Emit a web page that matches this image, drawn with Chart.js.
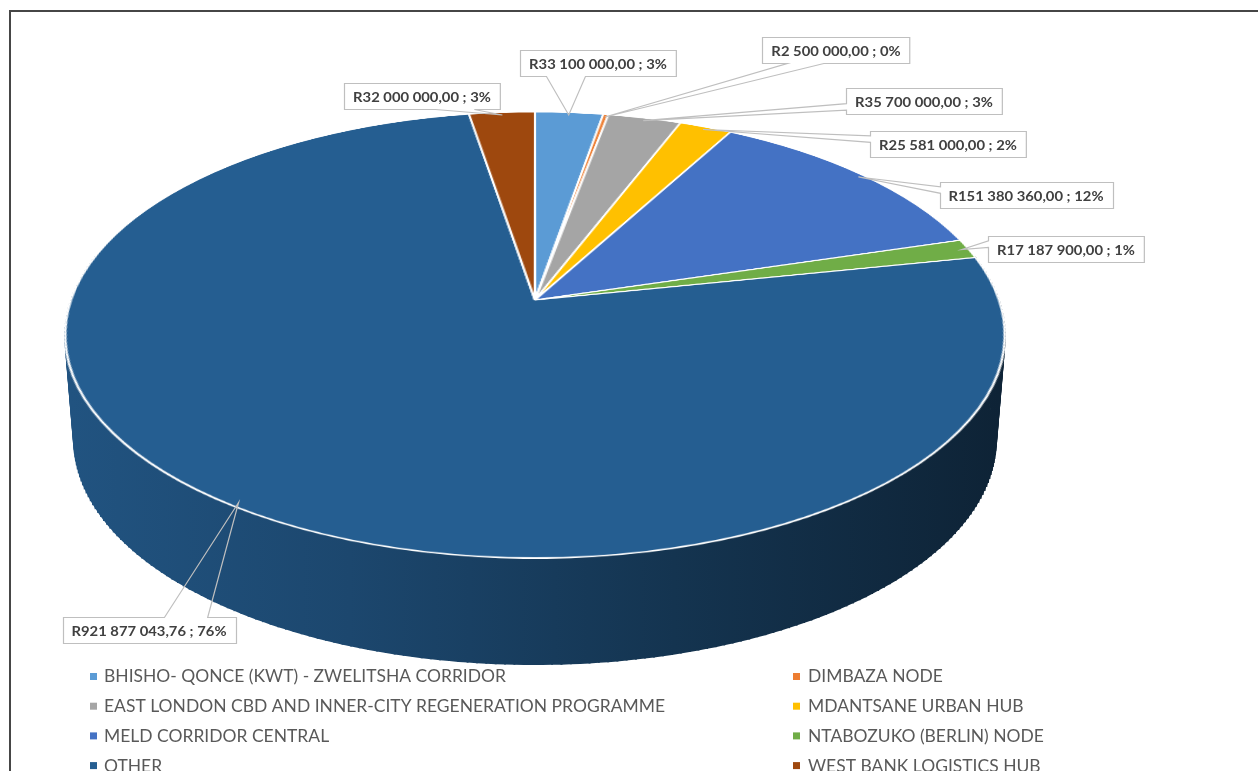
<!DOCTYPE html>
<html>
<head>
<meta charset="utf-8">
<title>Capital budget by spatial area</title>
<script src="https://cdn.jsdelivr.net/npm/chart.js@4.4.1/dist/chart.umd.min.js"></script>
<style>
  html, body { margin: 0; padding: 0; background: #ffffff; }
  #wrap { position: relative; width: 1258px; height: 771px; overflow: hidden; }
  canvas { display: block; }
</style>
</head>
<body>
<div id="wrap"><canvas id="pie" width="1258" height="771"></canvas></div>
<script>
// ---- data ----
const categories = [
  'BHISHO- QONCE (KWT) - ZWELITSHA CORRIDOR',
  'DIMBAZA NODE',
  'EAST LONDON CBD AND INNER-CITY REGENERATION PROGRAMME',
  'MDANTSANE URBAN HUB',
  'MELD CORRIDOR CENTRAL',
  'NTABOZUKO (BERLIN) NODE',
  'OTHER',
  'WEST BANK LOGISTICS HUB'
];
const budgetRand = [33100000.00, 2500000.00, 35700000.00, 25581000.00, 151380360.00, 17187900.00, 921877043.76, 32000000.00];
const sliceColors = ['#5B9BD5', '#ED7D31', '#A5A5A5', '#FFC000', '#4472C4', '#70AD47', '#255E91', '#9E480E'];

// ---- layout ----
// centre of each value callout box, in slice order
const calloutCentres = [[598, 63], [836, 50], [924, 101], [948, 144], [1026, 195], [1066, 249], [149, 630], [422, 96]];
// tilted-disc view: centre, horizontal scale, vertical scale, perspective factor, base offset
const VIEW = { cx: 535, cy: 300, sx: 464, a: 217.5, k: 0.157, baseCy: 407, baseSx: 455 };

function project(theta, r, top) {
  const u = r * Math.cos(theta), v = -r * Math.sin(theta);
  const w = 1 + VIEW.k * v;
  const S = top ? VIEW.sx : VIEW.baseSx;
  const Y0 = top ? VIEW.cy : VIEW.baseCy;
  return [VIEW.cx + S * u / w, Y0 - VIEW.a * v / w];
}
function vAtRow(y) {
  const d = VIEW.cy - y;
  return d / (VIEW.a - VIEW.k * d);
}
function hexRgb(h) {
  const n = parseInt(h.slice(1), 16);
  return [(n >> 16) & 255, (n >> 8) & 255, n & 255];
}
function shade(h, f) {
  const c = hexRgb(h).map(x => Math.round(x * f));
  return 'rgb(' + c.join(',') + ')';
}
function rand(v) {
  const parts = v.toFixed(2).split('.');
  return 'R' + parts[0].replace(/\B(?=(\d{3})+(?!\d))/g, ' ') + ',' + parts[1];
}

function calloutPath(ctx, l, t, w, h, tx, ty) {
  const hc = l + w / 2, vc = t + h / 2;
  const dx = tx - hc, dy = ty - vc;
  const dq = dx * h / w;
  const dz = Math.abs(dy) - Math.abs(dq);
  const x1 = l + w * (dx > 0 ? 7 : 2) / 12, x2 = l + w * (dx > 0 ? 10 : 5) / 12;
  const y1 = t + h * (dy > 0 ? 7 : 2) / 12, y2 = t + h * (dy > 0 ? 10 : 5) / 12;
  const r = l + w, b = t + h;
  ctx.beginPath();
  ctx.moveTo(l, t);
  if (dz > 0 && dy < 0) { ctx.lineTo(x1, t); ctx.lineTo(tx, ty); ctx.lineTo(x2, t); }
  ctx.lineTo(r, t);
  if (dz <= 0 && dx > 0) { ctx.lineTo(r, y1); ctx.lineTo(tx, ty); ctx.lineTo(r, y2); }
  ctx.lineTo(r, b);
  if (dz > 0 && dy > 0) { ctx.lineTo(x2, b); ctx.lineTo(tx, ty); ctx.lineTo(x1, b); }
  ctx.lineTo(l, b);
  if (dz <= 0 && dx < 0) { ctx.lineTo(l, y2); ctx.lineTo(tx, ty); ctx.lineTo(l, y1); }
  ctx.closePath();
}

// Re-projects the flat pie drawn by Chart.js onto a tilted disc with a side wall,
// then adds value callouts, the legend and the frame.
const tiltedPie = {
  id: 'tiltedPie',
  afterDatasetsDraw(chart) {
    const ctx = chart.ctx, cv = chart.canvas;
    const W = cv.width, H = cv.height;
    const meta = chart.getDatasetMeta(0);
    const arcs = meta.data;
    const srcX = arcs[0].x, srcY = arcs[0].y, R = arcs[0].outerRadius;
    const data = chart.data.datasets[0].data;
    const colors = chart.data.datasets[0].backgroundColor;
    const total = data.reduce((s, x) => s + x, 0);

    const off = document.createElement('canvas');
    off.width = W; off.height = H;
    off.getContext('2d').drawImage(cv, 0, 0);

    ctx.save();
    ctx.setTransform(1, 0, 0, 1, 0, 0);
    ctx.clearRect(0, 0, W, H);
    ctx.fillStyle = '#ffffff';
    ctx.fillRect(0, 0, W, H);

    // side wall, one section per slice facing the viewer
    const lo = -12 * Math.PI / 180, hi = 192 * Math.PI / 180;
    arcs.forEach((arc, i) => {
      let s = arc.startAngle, e = arc.endAngle;
      // bring the angles near the front range
      const pieces = [];
      for (const shift of [-2 * Math.PI, 0, 2 * Math.PI]) {
        const a = Math.max(s + shift, lo), b = Math.min(e + shift, hi);
        if (b > a) pieces.push([a, b]);
      }
      pieces.forEach(([a, b]) => {
        const g = ctx.createLinearGradient(VIEW.cx - VIEW.sx, 0, VIEW.cx + VIEW.sx, 0);
        g.addColorStop(0, shade(colors[i], 0.88));
        g.addColorStop(0.3, shade(colors[i], 0.76));
        g.addColorStop(0.65, shade(colors[i], 0.55));
        g.addColorStop(1, shade(colors[i], 0.37));
        ctx.fillStyle = g; ctx.strokeStyle = g; ctx.lineWidth = 2;
        const n = Math.max(2, Math.ceil((b - a) * 180 / Math.PI));
        ctx.beginPath();
        for (let j = 0; j <= n; j++) {
          const p = project(a + (b - a) * j / n, 1, true);
          j ? ctx.lineTo(p[0], p[1]) : ctx.moveTo(p[0], p[1]);
        }
        for (let j = n; j >= 0; j--) {
          const p = project(a + (b - a) * j / n, 1, false);
          ctx.lineTo(p[0], p[1]);
        }
        ctx.closePath();
        ctx.fill();
        for (let j = 0; j <= n; j++) {
          const th = a + (b - a) * j / n;
          const p = project(th, 1, true), q = project(th, 1, false);
          ctx.beginPath(); ctx.moveTo(p[0], p[1]); ctx.lineTo(q[0], q[1]); ctx.stroke();
        }
      });
    });

    // top face: row-by-row perspective resampling of the flat pie
    ctx.imageSmoothingEnabled = true;
    ctx.imageSmoothingQuality = 'high';
    const yTop = Math.floor(project(-Math.PI / 2, 1, true)[1]) - 3;
    const yBot = Math.ceil(project(Math.PI / 2, 1, true)[1]) + 3;
    for (let y = yTop; y < yBot; y++) {
      const v1 = vAtRow(y), v2 = vAtRow(y + 1), vm = vAtRow(y + 0.5);
      let s1 = srcY - R * v1, s2 = srcY - R * v2;
      s1 = Math.max(0, s1); s2 = Math.min(H, s2);
      if (s2 - s1 <= 0.01) continue;
      const kx = VIEW.sx / ((1 + VIEW.k * vm) * R);
      ctx.drawImage(off, 0, s1, W, s2 - s1, VIEW.cx - kx * srcX, y, W * kx, 1);
    }

    // value callouts
    ctx.font = 'bold 14px Lato, "Open Sans", sans-serif';
    const fitLbl = 155 / ctx.measureText('R151 380 360,00 ; 12%').width;
    arcs.forEach((arc, i) => {
      const txt = rand(data[i]) + ' ; ' + Math.round(data[i] / total * 100) + '%';
      const tw = ctx.measureText(txt).width * fitLbl;
      const bw = tw + 18, bh = 26;
      const [cxb, cyb] = calloutCentres[i];
      const l = Math.round(cxb - bw / 2) + 0.5, t = Math.round(cyb - bh / 2) + 0.5;
      const mid = (arc.startAngle + arc.endAngle) / 2;
      const tip = project(mid, 0.985, true);
      ctx.fillStyle = '#ffffff';
      ctx.fillRect(l, t, bw, bh);
      calloutPath(ctx, l, t, bw, bh, tip[0], tip[1]);
      ctx.strokeStyle = '#bfbfbf';
      ctx.lineWidth = 1.2;
      ctx.stroke();
      ctx.save();
      ctx.translate(cxb, cyb + 1);
      ctx.scale(fitLbl, 1);
      ctx.fillStyle = '#404040';
      ctx.textAlign = 'center';
      ctx.textBaseline = 'middle';
      ctx.fillText(txt, 0, 0);
      ctx.restore();
    });

    // legend, two columns
    ctx.font = '17px Lato, "Open Sans", sans-serif';
    const fitLeg = 561 / ctx.measureText(categories[2]).width;
    chart.data.labels.forEach((lab, i) => {
      const col = i % 2, row = Math.floor(i / 2);
      const mx = col ? 793 : 90, tx = col ? 808 : 104;
      const y = 677 + row * 29.7;
      ctx.fillStyle = colors[i];
      ctx.fillRect(mx, y - 4, 7, 7);
      ctx.save();
      ctx.translate(tx, y);
      ctx.scale(fitLeg, 1);
      ctx.fillStyle = '#595959';
      ctx.textAlign = 'left';
      ctx.textBaseline = 'middle';
      ctx.fillText(lab, 0, 0);
      ctx.restore();
    });

    // frame
    ctx.strokeStyle = '#464646';
    ctx.lineWidth = 2;
    ctx.beginPath();
    ctx.moveTo(10, H + 2); ctx.lineTo(10, 11); ctx.lineTo(W + 2, 11);
    ctx.stroke();

    ctx.restore();
  }
};

new Chart(document.getElementById('pie'), {
  type: 'pie',
  data: {
    labels: categories,
    datasets: [{
      data: budgetRand,
      backgroundColor: sliceColors,
      borderColor: '#ffffff',
      borderWidth: 2
    }]
  },
  options: {
    responsive: false,
    animation: false,
    devicePixelRatio: 1,
    events: [],
    layout: { padding: 0 },
    plugins: {
      legend: { display: false },
      tooltip: { enabled: false },
      title: { display: false }
    }
  },
  plugins: [tiltedPie]
});
</script>
</body>
</html>
